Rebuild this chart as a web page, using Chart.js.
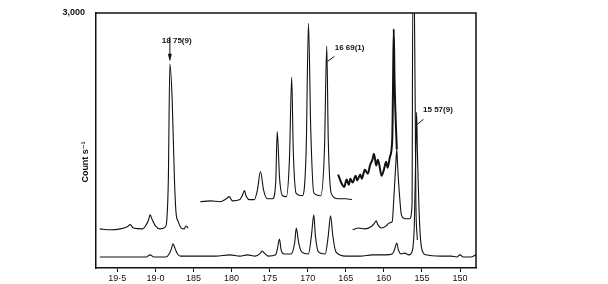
<!DOCTYPE html>
<html>
<head>
<meta charset="utf-8">
<script src="https://cdn.jsdelivr.net/npm/chart.js@4"></script>
<style>
  body { margin: 0; background: #fff; }
  #chart { display: block; }
</style>
</head>
<body>
<canvas id="chart" width="608" height="284"></canvas>
<script>
// x tick positions and how they are printed on the original
const tickValues = [15.0, 15.5, 16.0, 16.5, 17.0, 17.5, 18.0, 18.5, 19.0, 19.5];
const tickLabels = ['150', '155', '160', '165', '170', '175', '180', '185', '19·0', '19·5'];

// lower trace (full scan)
const lowerX = [19.73, 19.46, 19.20, 19.12, 19.07, 19.02, 18.86, 18.82, 18.79, 18.77, 18.74, 18.71, 18.67, 18.41, 18.21,
  18.02, 17.89, 17.79, 17.69, 17.62, 17.60, 17.57, 17.52, 17.42, 17.40, 17.37, 17.35, 17.31, 17.22, 17.17, 17.15, 17.12,
  17.08, 16.99, 16.95, 16.92, 16.90, 16.86, 16.77, 16.73, 16.70, 16.67, 16.63, 16.50, 16.31, 16.15, 15.98, 15.89, 15.86,
  15.83, 15.81, 15.77, 15.73, 15.67, 15.63, 15.60, 15.58, 15.57, 15.56, 15.53, 15.50, 15.45, 15.25, 15.12, 15.04, 15.00,
  14.96, 14.86, 14.79];
const lowerY = [130, 130, 130, 130, 155, 130, 130, 165, 225, 285, 225, 165, 140, 140, 140,
  155, 140, 155, 140, 175, 200, 175, 140, 155, 215, 340, 215, 165, 165, 305, 470, 305,
  190, 165, 390, 625, 390, 190, 165, 380, 615, 380, 190, 140, 140, 155, 155, 165, 215,
  295, 215, 165, 175, 155, 190, 510, 1395, 1830, 1395, 510, 215, 155, 140, 140, 130, 155,
  130, 130, 155];

// upper trace, first part (18.75 line)
const upperAX = [19.73, 19.60, 19.46, 19.37, 19.33, 19.29, 19.17, 19.12, 19.09, 19.07, 19.04, 19.00, 18.94, 18.87, 18.85,
  18.83, 18.81, 18.78, 18.75, 18.73, 18.70, 18.66, 18.62, 18.60, 18.57];
const upperAY = [460, 450, 460, 485, 510, 470, 460, 510, 565, 625, 565, 495, 460, 485, 565,
  1040, 2400, 1985, 1040, 660, 545, 470, 460, 495, 470];

// upper trace, middle part (16.69 group)
const upperBX = [18.41, 18.28, 18.15, 18.07, 18.03, 17.99, 17.89, 17.86, 17.83, 17.81, 17.77, 17.70, 17.66, 17.62, 17.58,
  17.53, 17.46, 17.42, 17.40, 17.37, 17.33, 17.28, 17.24, 17.21, 17.19, 17.15, 17.07, 17.02, 16.99, 16.96, 16.92, 16.83,
  16.78, 16.75, 16.73, 16.69, 16.60, 16.50, 16.42];
const upperBY = [780, 790, 780, 815, 840, 790, 805, 850, 910, 850, 805, 805, 920, 1135, 920,
  815, 815, 1015, 1605, 1065, 850, 840, 1275, 2245, 1395, 875, 850, 1395, 2880, 1630, 885, 850,
  1395, 2610, 1510, 875, 815, 815, 805];

// noisy high-gain part before 15.9
const upperCX = [16.60, 16.56, 16.52, 16.49, 16.46, 16.44, 16.41, 16.37, 16.35, 16.31, 16.29, 16.25, 16.21, 16.18, 16.15,
  16.13, 16.10, 16.08, 16.06, 16.03, 16.00, 15.97, 15.95, 15.92, 15.89, 15.88, 15.87, 15.86, 15.83];
const upperCY = [1100, 1005, 955, 1040, 980, 1050, 1005, 1085, 1030, 1100, 1050, 1155, 1110, 1215, 1275,
  1345, 1205, 1275, 1215, 1085, 1155, 1250, 1180, 1310, 1510, 2100, 2810, 2220, 1395];

// upper trace, right part (15.57 line, off scale)
const upperDX = [16.41, 16.33, 16.25, 16.17, 16.13, 16.10, 16.08, 16.03, 15.97, 15.93, 15.89, 15.87, 15.84, 15.83, 15.82,
  15.79, 15.77, 15.72, 15.66, 15.63, 15.62, 15.60, 15.58, 15.56];
const upperDY = [450, 470, 460, 485, 520, 555, 510, 470, 495, 530, 545, 805, 1275, 1395, 1215,
  805, 625, 580, 580, 745, 3200, 3200, 805, 330];

const toPoints = (xs, ys) => xs.map((x, i) => ({ x: x, y: ys[i] }));

const ink = '#111';

function trace(xs, ys, width) {
    return {
        data: toPoints(xs, ys),
        borderColor: ink,
        borderWidth: width,
        pointRadius: 0,
        fill: false,
        cubicInterpolationMode: 'monotone'
    };
}

// frame + hand lettering of the original
const annotations = {
    id: 'annotations',
    afterDraw(chart) {
        const { ctx, chartArea: a, scales: { x, y } } = chart;
        ctx.save();
        ctx.strokeStyle = ink;
        ctx.lineWidth = 1.5;
        ctx.beginPath();
        ctx.moveTo(a.left, a.top);
        ctx.lineTo(a.right, a.top);
        ctx.lineTo(a.right, a.bottom);
        ctx.stroke();

        ctx.fillStyle = ink;
        ctx.font = 'bold 8px "Liberation Sans", "DejaVu Sans", sans-serif';
        ctx.textAlign = 'center';
        ctx.textBaseline = 'middle';
        ctx.fillText('18 75(9)', x.getPixelForValue(18.72), y.getPixelForValue(2670));
        ctx.fillText('16 69(1)', x.getPixelForValue(16.45), y.getPixelForValue(2585));
        ctx.fillText('15 57(9)', x.getPixelForValue(15.29), y.getPixelForValue(1865));

        // pointer for 18.75
        ctx.lineWidth = 1;
        const ax = x.getPixelForValue(18.81);
        ctx.beginPath();
        ctx.moveTo(ax, y.getPixelForValue(2720));
        ctx.lineTo(ax, y.getPixelForValue(2450));
        ctx.stroke();
        ctx.beginPath();
        ctx.moveTo(ax - 2, y.getPixelForValue(2520));
        ctx.lineTo(ax + 2, y.getPixelForValue(2520));
        ctx.lineTo(ax, y.getPixelForValue(2430));
        ctx.closePath();
        ctx.fill();

        // short leaders for 16.69 and 15.57
        ctx.beginPath();
        ctx.moveTo(x.getPixelForValue(16.74), y.getPixelForValue(2430));
        ctx.lineTo(x.getPixelForValue(16.65), y.getPixelForValue(2490));
        ctx.moveTo(x.getPixelForValue(15.56), y.getPixelForValue(1690));
        ctx.lineTo(x.getPixelForValue(15.48), y.getPixelForValue(1750));
        ctx.stroke();

        // y axis title
        ctx.font = 'bold 9px "Liberation Sans", "DejaVu Sans", sans-serif';
        ctx.translate(86, 162);
        ctx.rotate(-Math.PI / 2);
        ctx.fillText('Count s⁻¹', 0, 0);
        ctx.restore();
    }
};

new Chart(document.getElementById('chart'), {
    type: 'line',
    data: {
        datasets: [
            trace(lowerX, lowerY, 1.1),
            trace(upperAX, upperAY, 1.1),
            trace(upperBX, upperBY, 1.1),
            trace(upperCX, upperCY, 2),
            trace(upperDX, upperDY, 1.1)
        ]
    },
    options: {
        responsive: false,
        animation: false,
        layout: { padding: { top: 13, right: 132, left: 0, bottom: 0 } },
        plugins: {
            legend: { display: false },
            tooltip: { enabled: false }
        },
        scales: {
            x: {
                type: 'linear',
                reverse: true,
                min: 14.79,
                max: 19.78,
                afterBuildTicks: (s) => { s.ticks = tickValues.map(v => ({ value: v })); },
                afterFit: (s) => { s.height = 16; },
                ticks: {
                    color: ink,
                    padding: 1,
                    maxRotation: 0,
                    autoSkip: false,
                    font: { family: '"Liberation Sans", "DejaVu Sans", sans-serif', size: 9 },
                    callback: (v) => {
                        const i = tickValues.findIndex(t => Math.abs(t - v) < 1e-6);
                        return i >= 0 ? tickLabels[i] : '';
                    }
                },
                grid: { drawOnChartArea: false, color: ink, tickLength: 4 },
                border: { color: ink, width: 1.5 }
            },
            y: {
                min: 0,
                max: 3000,
                afterBuildTicks: (s) => { s.ticks = [{ value: 3000 }]; },
                afterFit: (s) => { s.width = 96; },
                ticks: {
                    color: ink,
                    padding: 3,
                    font: { family: '"Liberation Sans", "DejaVu Sans", sans-serif', size: 9, weight: 'bold' },
                    callback: (v) => v === 3000 ? '3,000' : ''
                },
                grid: { display: false },
                border: { color: ink, width: 1.5 }
            }
        }
    },
    plugins: [annotations]
});
</script>
</body>
</html>
